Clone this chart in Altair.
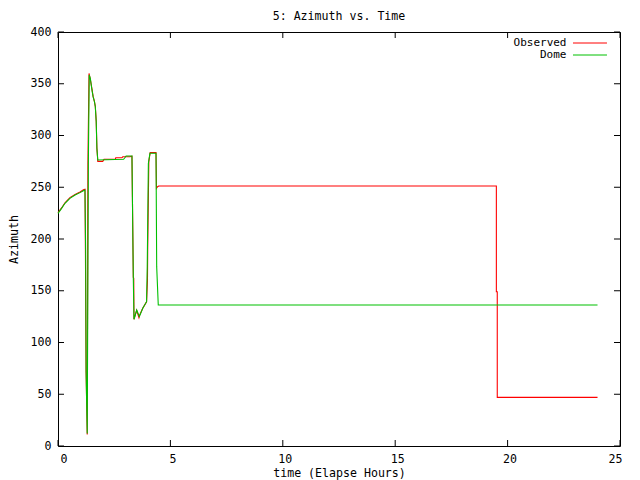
import altair as alt
import pandas as pd

# ---- data ----
obs_t = [0.0, 0.16, 0.31, 0.53, 0.76, 0.98, 1.13, 1.20, 1.22, 1.25, 1.30, 1.33, 1.38, 1.44, 1.51,
         1.56, 1.62, 1.66, 1.70, 1.73, 1.77, 1.99, 2.05, 2.55, 2.57, 2.85, 2.88, 3.20, 3.29, 3.31,
         3.35, 3.37, 3.38, 3.50, 3.60, 3.62, 3.77, 3.94, 3.98, 3.99, 4.04, 4.10, 4.36, 4.38, 4.43,
         4.48, 19.50, 19.50, 19.54, 19.54, 24.0]
obs_v = [225.5, 230.0, 235.0, 240.0, 243.0, 245.5, 247.5, 248.0, 190.0, 72.0, 11.0, 272.0, 360.0,
         354.0, 345.0, 338.0, 333.0, 328.0, 314.0, 288.0, 275.0, 275.0, 277.0, 277.0, 278.5, 278.5,
         279.5, 279.5, 280.0, 241.0, 163.0, 162.0, 122.4, 131.0, 124.0, 126.0, 133.0, 139.4, 160.0,
         190.0, 275.0, 283.5, 283.5, 249.0, 250.5, 251.2, 251.2, 149.0, 149.0, 47.0, 47.0]

dome_t = [0.0, 0.16, 0.31, 0.53, 0.76, 0.98, 1.13, 1.20, 1.23, 1.25, 1.30, 1.35, 1.39, 1.44, 1.51,
          1.56, 1.62, 1.66, 1.70, 1.73, 1.77, 2.92, 2.99, 3.03, 3.29, 3.31, 3.35, 3.38, 3.50, 3.62,
          3.77, 3.94, 3.97, 4.02, 4.09, 4.36, 4.39, 4.46, 24.0]
dome_v = [224.8, 229.6, 234.5, 239.3, 242.5, 244.8, 246.7, 247.3, 189.0, 71.5, 12.0, 273.0, 358.5,
          355.0, 344.0, 337.5, 332.7, 327.8, 313.3, 287.6, 276.3, 277.0, 279.0, 280.2, 280.2, 240.9,
          162.0, 122.4, 131.4, 125.0, 133.0, 139.4, 173.3, 273.0, 282.8, 282.8, 173.3, 136.2, 136.2]

series_names = ["Observed", "Dome"]
series_colors = ["#ff0000", "#00c000"]
x_ticks = [0, 5, 10, 15, 20, 25]
y_ticks = [0, 50, 100, 150, 200, 250, 300, 350, 400]

FONT = "DejaVu Sans Mono"
FS = 11.6
W, H = 562, 414

rows = []
for i, (t, v) in enumerate(zip(obs_t, obs_v)):
    rows.append({"t": t, "v": v, "series": "Observed", "i": i})
for i, (t, v) in enumerate(zip(dome_t, dome_v)):
    rows.append({"t": t, "v": v, "series": "Dome", "i": i})
df = pd.DataFrame(rows)
xt_df = pd.DataFrame({"t": x_ticks})
yt_df = pd.DataFrame({"v": y_ticks})

x_enc = alt.X("t:Q", scale=alt.Scale(domain=[0, 25], nice=False, zero=False),
              axis=alt.Axis(values=x_ticks, title="time (Elapse Hours)", ticks=False, domain=False,
                            grid=False, labelPadding=7, labelOffset=2, titlePadding=3,
                            labelFont=FONT, labelFontSize=FS, titleFont=FONT, titleFontSize=FS,
                            titleFontWeight="normal", labelColor="black", titleColor="black"))
y_enc = alt.Y("v:Q", scale=alt.Scale(domain=[0, 400], nice=False),
              axis=alt.Axis(values=y_ticks, title="Azimuth", ticks=False, domain=False,
                            grid=False, labelPadding=7, titlePadding=11,
                            labelFont=FONT, labelFontSize=FS, titleFont=FONT, titleFontSize=FS,
                            titleFontWeight="normal", labelColor="black", titleColor="black"))

color_enc = alt.Color("series:N",
                      scale=alt.Scale(domain=series_names, range=series_colors),
                      legend=alt.Legend(orient="none", legendX=496.5, legendY=5, title=None,
                                        symbolType="M2.27,0H8.45", symbolSize=121,
                                        symbolStrokeWidth=1, symbolOffset=0, rowPadding=1,
                                        labelAlign="right", labelOffset=0, labelFont=FONT,
                                        labelFontSize=11, labelColor="black", padding=0))

obs_line = alt.Chart(df).transform_filter(alt.datum.series == "Observed").mark_line(
    strokeWidth=1.1).encode(x=x_enc, y=y_enc, color=color_enc, order="i:Q")
dome_line = alt.Chart(df).transform_filter(alt.datum.series == "Dome").mark_line(
    strokeWidth=1.1).encode(x=x_enc, y=y_enc, color=color_enc, order="i:Q")

tick_style = dict(color="black", strokeWidth=1)
ytick_left = alt.Chart(yt_df).mark_rule(**tick_style).encode(
    y=y_enc, x=alt.value(0), x2=alt.value(6))
ytick_right = alt.Chart(yt_df).mark_rule(**tick_style).encode(
    y=y_enc, x=alt.value(W - 6), x2=alt.value(W))
xtick_bottom = alt.Chart(xt_df).mark_rule(**tick_style).encode(
    x=x_enc, y=alt.value(H - 6), y2=alt.value(H))
xtick_top = alt.Chart(xt_df).mark_rule(**tick_style).encode(
    x=x_enc, y=alt.value(0), y2=alt.value(6))

chart = alt.layer(obs_line, dome_line, ytick_left, ytick_right, xtick_bottom, xtick_top).properties(
    width=W, height=H,
    title=alt.Title("5: Azimuth vs. Time", font=FONT, fontSize=FS, fontWeight="normal",
                    color="black", offset=3),
    autosize=alt.AutoSizeParams(type="none"),
    padding={"left": 50, "top": 24, "right": 12, "bottom": 40},
    background="white",
).configure_view(stroke="black", strokeWidth=1)

chart.save("out.html", embed_options={"renderer": "svg", "actions": False})
